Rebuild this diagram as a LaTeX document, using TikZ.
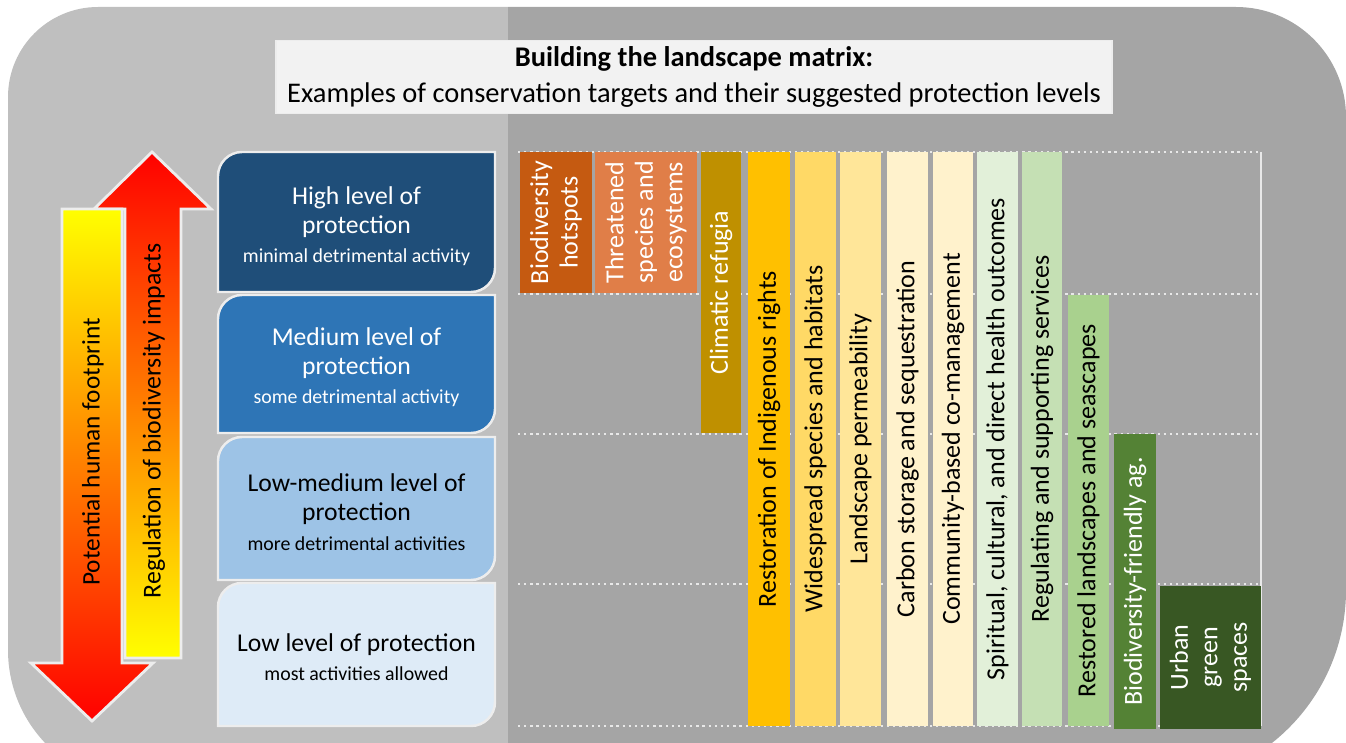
\documentclass[tikz,border=0pt]{standalone}
\usepackage{fontspec}
\setmainfont{Carlito}

\definecolor{leftbg}{HTML}{BFBFBF}
\definecolor{rightbg}{HTML}{A5A5A5}
\definecolor{titlefill}{HTML}{F2F2F2}
\definecolor{boxedge}{HTML}{EDEDED}
\definecolor{gridcol}{HTML}{E8E8E8}
\definecolor{highblue}{HTML}{1F4E79}
\definecolor{medblue}{HTML}{2E75B6}
\definecolor{lowmedblue}{HTML}{9DC3E6}
\definecolor{lowblue}{HTML}{DEEBF7}
\definecolor{hotspotcol}{HTML}{C55A11}
\definecolor{threatcol}{HTML}{E07E48}
\definecolor{refugiacol}{HTML}{BF9000}
\definecolor{rightscol}{HTML}{FFC000}
\definecolor{widecol}{HTML}{FFD966}
\definecolor{permcol}{HTML}{FFE699}
\definecolor{carboncol}{HTML}{FFF2CC}
\definecolor{spiritcol}{HTML}{E2F0D9}
\definecolor{regulcol}{HTML}{C5E0B4}
\definecolor{restorecol}{HTML}{A9D18E}
\definecolor{agcol}{HTML}{548235}
\definecolor{urbancol}{HTML}{385723}

\tikzset{
  levelbox/.style={draw=boxedge, line width=1.4pt},
  leveltext/.style={align=center, font=\fontsize{14.6}{16.6}\selectfont},
  bar/.style={rotate=90, inner sep=0pt, align=center, font=\fontsize{14.8}{16.8}\selectfont},
  gridline/.style={draw=gridcol, line width=1.2pt, dash pattern=on 1.3pt off 2.2pt},
  bigarrow/.style={draw=boxedge, line width=1.6pt},
}

\begin{document}
\begin{tikzpicture}[x=0.02cm, y=-0.02cm]
\useasboundingbox (0,0) rectangle (1346,743);
\clip (0,0) rectangle (1346,743);

% background panel, light on the left and darker under the matrix
\begin{scope}
\clip (8,650) -- (8,97) arc (180:270:90) -- (1236,7) arc (270:360:110)
  -- (1346,590) arc (0:90:195) -- (143,785) arc (90:180:135) -- cycle;
\fill[leftbg] (0,0) rectangle (508,800);
\fill[rightbg] (508,0) rectangle (1400,800);
\end{scope}

% title
\node[fill=titlefill, draw=boxedge, line width=0.8pt, minimum width=16.72cm, minimum height=1.46cm,
  align=center, font=\fontsize{16.2}{20}\selectfont] (title) at (694,77)
  {\textbf{Building the landscape matrix:}\\[1pt]Examples of conservation targets and their suggested protection levels};

% the two gradient arrows
\shade[bigarrow, top color=red, bottom color=yellow]
  (125,658) -- (125,209) -- (94,209) -- (152,152) -- (211,209) -- (181,209) -- (181,658) -- cycle;
\shade[bigarrow, top color=yellow, bottom color=red]
  (62,209) -- (122,209) -- (122,663) -- (153,663) -- (92,721) -- (31,663) -- (62,663) -- cycle;
\node[rotate=90, font=\fontsize{14.7}{16}\selectfont] (impacts) at (154,421) {Regulation of biodiversity impacts};
\node[rotate=90, font=\fontsize{14.4}{16}\selectfont] (footprint) at (93,452) {Potential human footprint};

% protection levels
\filldraw[levelbox, fill=highblue] (218,292) -- (218,176) arc (180:270:24) -- (495,152) -- (495,268) arc (0:90:24) -- cycle;
\filldraw[levelbox, fill=medblue] (218,433) -- (218,319) arc (180:270:24) -- (495,295) -- (495,409) arc (0:90:24) -- cycle;
\filldraw[levelbox, fill=lowmedblue] (218,580) -- (218,461) arc (180:270:24) -- (495,437) -- (495,556) arc (0:90:24) -- cycle;
\filldraw[levelbox, fill=lowblue] (218,726) -- (218,607) arc (180:270:24) -- (495,583) -- (495,702) arc (0:90:24) -- cycle;

\node[leveltext, text=white] (high) at (356.5,226)
  {High level of\\protection\\{\fontsize{11.3}{13}\selectfont minimal detrimental activity}};
\node[leveltext, text=white] (medium) at (356.5,367)
  {Medium level of\\protection\\{\fontsize{11.3}{13}\selectfont some detrimental activity}};
\node[leveltext] (lowmed) at (356.5,512)
  {Low-medium level of\\protection\\{\fontsize{11.3}{13}\selectfont more detrimental activities}};
\node[leveltext] (low) at (356.5,657)
  {Low level of protection\\{\fontsize{11.3}{13}\selectfont most activities allowed}};

% matrix grid
\foreach \y in {152,294,434,584,726}
  \draw[gridline] (518,\y) -- (1261,\y);
\draw[draw=gridcol, line width=1pt] (1261,152) -- (1261,726);

% conservation targets
\node[bar, fill=hotspotcol, text=white, minimum width=2.82cm, minimum height=1.44cm] (hotspots) at (556,222.5) {Biodiversity\\hotspots};
\node[bar, fill=threatcol, text=white, minimum width=2.82cm, minimum height=2.04cm] (threatened) at (646,222.5) {Threatened\\species and\\ecosystems};
\node[bar, fill=refugiacol, text=white, minimum width=5.62cm, minimum height=0.8cm] (refugia) at (721,292.5) {Climatic refugia};
\node[bar, fill=rightscol, minimum width=11.48cm, minimum height=0.84cm] (rights) at (769,439) {Restoration of Indigenous rights};
\node[bar, fill=widecol, minimum width=11.48cm, minimum height=0.82cm] (widespread) at (815.5,439) {Widespread species and habitats};
\node[bar, fill=permcol, minimum width=11.48cm, minimum height=0.82cm] (permeability) at (860.5,439) {Landscape permeability};
\node[bar, fill=carboncol, minimum width=11.48cm, minimum height=0.82cm] (carbon) at (907.5,439) {Carbon storage and sequestration};
\node[bar, fill=carboncol, minimum width=11.48cm, minimum height=0.8cm] (comanage) at (953,439) {Community-based co-management};
\node[bar, fill=spiritcol, minimum width=11.48cm, minimum height=0.82cm] (spiritual) at (997.5,439) {Spiritual, cultural, and direct health outcomes};
\node[bar, fill=regulcol, minimum width=11.48cm, minimum height=0.8cm] (regulating) at (1042,439) {Regulating and supporting services};
\node[bar, fill=restorecol, minimum width=8.62cm, minimum height=0.82cm] (restored) at (1088.5,510.5) {Restored landscapes and seascapes};
\node[bar, fill=agcol, text=white, minimum width=5.9cm, minimum height=0.84cm] (friendly) at (1135,581.5) {Biodiversity-friendly ag.};
\node[bar, fill=urbancol, text=white, minimum width=2.86cm, minimum height=2.02cm] (urban) at (1210.5,657.5) {Urban\\green\\spaces};
\end{tikzpicture}
\end{document}
